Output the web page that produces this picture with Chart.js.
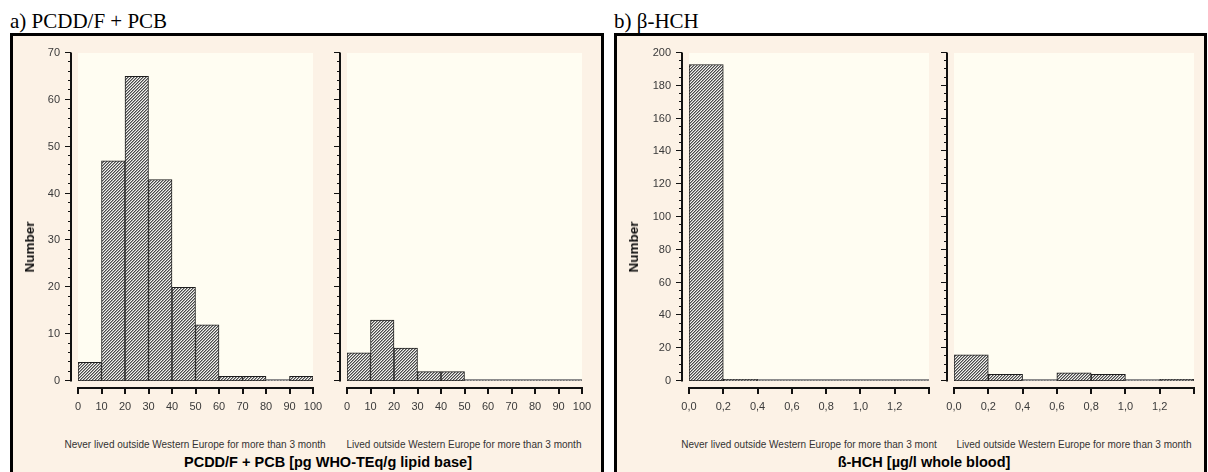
<!DOCTYPE html>
<html>
<head>
<meta charset="utf-8">
<script src="https://cdn.jsdelivr.net/npm/chart.js@4.4.1/dist/chart.umd.min.js"></script>
<style>
  html, body { margin: 0; padding: 0; background: #ffffff; }
  body { position: relative; width: 1208px; height: 472px; overflow: hidden;
         font-family: 'Liberation Sans', Arial, sans-serif; }
  .panel { position: absolute; top: 33px; height: 450px; border: 3px solid #000;
           box-sizing: border-box; background: #fcf2e6; }
  .head { position: absolute; top: 11px; font-family: 'Liberation Serif', 'Times New Roman', serif;
          font-size: 21px; line-height: 21px; color: #000; white-space: nowrap; }
  canvas { position: absolute; }
  .sub { position: absolute; width: 320px; text-align: center; font-size: 10px;
         line-height: 12px; color: #333; white-space: nowrap; }
  .axt { position: absolute; width: 420px; text-align: center; font-size: 14.5px; font-weight: bold;
         line-height: 16px; color: #000; white-space: nowrap; }
  .ytl { position: absolute; font-size: 13.5px; font-weight: bold; line-height: 16px; color: #111;
         transform: translate(-50%, -50%) rotate(-90deg); white-space: nowrap; }
</style>
</head>
<body>
<div class="panel" style="left:10px; width:594px;"></div>
<div class="panel" style="left:614px; width:593px;"></div>
<div class="head" style="left:10px;">a) PCDD/F + PCB</div>
<div class="head" style="left:614px;">b) β-HCH</div>

<canvas id="pcbNeverChart"></canvas>
<canvas id="pcbLivedChart"></canvas>
<canvas id="hchNeverChart"></canvas>
<canvas id="hchLivedChart"></canvas>

<div class="ytl" style="left:30px; top:247px;">Number</div>
<div class="ytl" style="left:634px; top:247px;">Number</div>
<div class="sub" id="lab1" style="left:35px; top:439px;"></div>
<div class="sub" id="lab2" style="left:304px; top:439px;"></div>
<div class="sub" id="lab3" style="left:649px; top:439px;"></div>
<div class="sub" id="lab4" style="left:914px; top:439px;"></div>
<div class="axt" id="axA" style="left:118px; top:454px;"></div>
<div class="axt" id="axB" style="left:714px; top:454px;"></div>

<script>
// ---- histogram data: counts per bin, bins given by their lower edge ----
const pcbBinWidth = 10;
const pcbEdges = [0, 10, 20, 30, 40, 50, 60, 70, 80, 90];
const pcbNever = [4, 47, 65, 43, 20, 12, 1, 1, 0, 1];
const pcbLived = [6, 13, 7, 2, 2, 0, 0, 0, 0, 0];
const pcbXTicks = [0, 10, 20, 30, 40, 50, 60, 70, 80, 90, 100];
const pcbXTickLabels = ['0', '10', '20', '30', '40', '50', '60', '70', '80', '90', '100'];
const pcbYTicks = [0, 10, 20, 30, 40, 50, 60, 70];

const hchBinWidth = 0.2;
const hchEdges = [0, 0.2, 0.4, 0.6, 0.8, 1.0, 1.2];
const hchNever = [193, 1, 0, 0, 0, 0, 0];
const hchLived = [16, 4, 0, 5, 4, 0, 1];
const hchXTicks = [0, 0.2, 0.4, 0.6, 0.8, 1.0, 1.2, 1.4];
const hchXTickLabels = ['0,0', '0,2', '0,4', '0,6', '0,8', '1,0', '1,2', ''];
const hchYTicks = [0, 20, 40, 60, 80, 100, 120, 140, 160, 180, 200];

const groupLabels = ['Never lived outside Western Europe for more than 3 month',
                     'Lived outside Western Europe for more than 3 month'];
const groupLabelsHch = ['Never lived outside Western Europe for more than 3 mont',
                        'Lived outside Western Europe for more than 3 month'];
const axisTitles = ['PCDD/F + PCB [pg WHO-TEq/g lipid base]', 'ß-HCH [µg/l whole blood]'];

document.getElementById('lab1').textContent = groupLabels[0];
document.getElementById('lab2').textContent = groupLabels[1];
document.getElementById('lab3').textContent = groupLabelsHch[0];
document.getElementById('lab4').textContent = groupLabelsHch[1];
document.getElementById('axA').textContent = axisTitles[0];
document.getElementById('axB').textContent = axisTitles[1];

Chart.defaults.font.family = "'Liberation Sans', Arial, sans-serif";
Chart.defaults.font.size = 11;
Chart.defaults.color = '#3a3a3a';

// fine diagonal hatch fill for the bars
function hatchPattern() {
  const c = document.createElement('canvas');
  c.width = c.height = 3;
  const g = c.getContext('2d');
  const shades = ['#4a4a4a', '#9c9c9c', '#f4f4ef'];
  for (let y = 0; y < 3; y++) {
    for (let x = 0; x < 3; x++) {
      g.fillStyle = shades[(x + y) % 3];
      g.fillRect(x, y, 1, 1);
    }
  }
  return g.createPattern(c, 'repeat');
}
const hatch = hatchPattern();

// plot background, zero baseline and detached axes with tick marks
const histAxes = {
  id: 'histAxes',
  beforeDraw(chart) {
    const { ctx, chartArea: a } = chart;
    ctx.save();
    ctx.fillStyle = '#fffdf2';
    ctx.fillRect(a.left, a.top, a.right - a.left, a.bottom - a.top);
    ctx.restore();
  },
  beforeDatasetsDraw(chart) {
    const { ctx, chartArea: a, scales: { y } } = chart;
    const y0 = Math.round(y.getPixelForValue(0));
    ctx.save();
    ctx.strokeStyle = '#8c8c8c';
    ctx.lineWidth = 2;
    ctx.beginPath();
    ctx.moveTo(a.left, y0 - 1);
    ctx.lineTo(a.right, y0 - 1);
    ctx.stroke();
    ctx.restore();
  },
  afterDraw(chart, args, o) {
    const { ctx, chartArea: a, scales: { x, y } } = chart;
    ctx.save();
    ctx.strokeStyle = '#111';
    // vertical axis
    const ax = a.left - o.gap;
    const yTop = Math.round(y.getPixelForValue(y.max));
    const yBot = Math.round(y.getPixelForValue(0));
    ctx.lineWidth = 2;
    ctx.beginPath();
    ctx.moveTo(ax, yTop - 0.5);
    ctx.lineTo(ax, yBot + 0.5);
    ctx.stroke();
    ctx.lineWidth = 1;
    ctx.beginPath();
    for (let v = 0; v <= y.max + 1e-9; v += o.minor) {
      const py = Math.round(y.getPixelForValue(v)) - 0.5;
      ctx.moveTo(ax - 3, py);
      ctx.lineTo(ax, py);
    }
    ctx.stroke();
    ctx.beginPath();
    y.ticks.forEach(t => {
      const py = Math.round(y.getPixelForValue(t.value)) - 0.5;
      ctx.moveTo(ax - 6, py);
      ctx.lineTo(ax, py);
    });
    ctx.stroke();
    // horizontal axis
    const ay = a.bottom + o.gap;
    const x0 = x.getPixelForValue(x.min);
    const x1 = x.getPixelForValue(x.max);
    ctx.lineWidth = 2;
    ctx.beginPath();
    ctx.moveTo(x0 - 1, ay);
    ctx.lineTo(x1 + 1, ay);
    ctx.stroke();
    ctx.beginPath();
    x.ticks.forEach(t => {
      const px = Math.round(x.getPixelForValue(t.value));
      ctx.moveTo(px, ay);
      ctx.lineTo(px, ay + 6);
    });
    ctx.stroke();
    ctx.restore();
  }
};

function histogram(id, layout, edges, binWidth, counts, xTicks, xLabels, yTicks, yMinor, showYLabels) {
  const cv = document.getElementById(id);
  const canvasLeft = layout.plotLeft - layout.yAxisWidth;
  const canvasWidth = layout.plotRight - canvasLeft + layout.padRight;
  const canvasHeight = layout.canvasBottom - layout.canvasTop;
  cv.width = canvasWidth;
  cv.height = canvasHeight;
  cv.style.left = canvasLeft + 'px';
  cv.style.top = layout.canvasTop + 'px';
  cv.style.width = canvasWidth + 'px';
  cv.style.height = canvasHeight + 'px';

  return new Chart(cv, {
    type: 'bar',
    data: {
      datasets: [{
        data: edges.map((e, i) => ({ x: e + binWidth / 2, y: counts[i] })),
        backgroundColor: hatch,
        borderColor: '#1e1e1e',
        borderWidth: c => (c.raw && c.raw.y > 0 ? 1 : 0),
        borderSkipped: false,
        barPercentage: 1,
        categoryPercentage: 1
      }]
    },
    options: {
      responsive: false,
      animation: false,
      events: [],
      layout: { padding: { top: layout.plotTop - layout.canvasTop, right: layout.padRight, left: 0, bottom: 0 } },
      plugins: { legend: { display: false }, tooltip: { enabled: false }, histAxes: { gap: 7, minor: yMinor } },
      scales: {
        x: {
          type: 'linear',
          min: xTicks[0],
          max: xTicks[xTicks.length - 1],
          offset: false,
          // invisible tick marks only push the labels away from the plot
          grid: { display: false, drawTicks: true, tickLength: 19, color: 'transparent' },
          border: { display: false },
          afterBuildTicks: s => { s.ticks = xTicks.map(v => ({ value: v })); },
          ticks: { padding: 0, maxRotation: 0, autoSkip: false, callback: (v, i) => xLabels[i] },
          afterFit: s => { s.height = layout.canvasBottom - layout.plotBottom; }
        },
        y: {
          min: yTicks[0],
          max: yTicks[yTicks.length - 1],
          grid: { display: false, drawTicks: true, tickLength: 18, color: 'transparent' },
          border: { display: false },
          afterBuildTicks: s => { s.ticks = yTicks.map(v => ({ value: v })); },
          ticks: { display: showYLabels, padding: 0, autoSkip: false, callback: v => String(v) },
          afterFit: s => { s.width = layout.yAxisWidth; }
        }
      }
    },
    plugins: [histAxes]
  });
}

const rows = { canvasTop: 37, canvasBottom: 420, plotTop: 53, plotBottom: 381, padRight: 14 };
histogram('pcbNeverChart', { ...rows, plotLeft: 78, plotRight: 313, yAxisWidth: 64 },
          pcbEdges, pcbBinWidth, pcbNever, pcbXTicks, pcbXTickLabels, pcbYTicks, 2, true);
histogram('pcbLivedChart', { ...rows, plotLeft: 347, plotRight: 582, yAxisWidth: 20 },
          pcbEdges, pcbBinWidth, pcbLived, pcbXTicks, pcbXTickLabels, pcbYTicks, 2, false);
histogram('hchNeverChart', { ...rows, plotLeft: 689, plotRight: 929, yAxisWidth: 64 },
          hchEdges, hchBinWidth, hchNever, hchXTicks, hchXTickLabels, hchYTicks, 5, true);
histogram('hchLivedChart', { ...rows, plotLeft: 954, plotRight: 1194, yAxisWidth: 20 },
          hchEdges, hchBinWidth, hchLived, hchXTicks, hchXTickLabels, hchYTicks, 5, false);
</script>
</body>
</html>
